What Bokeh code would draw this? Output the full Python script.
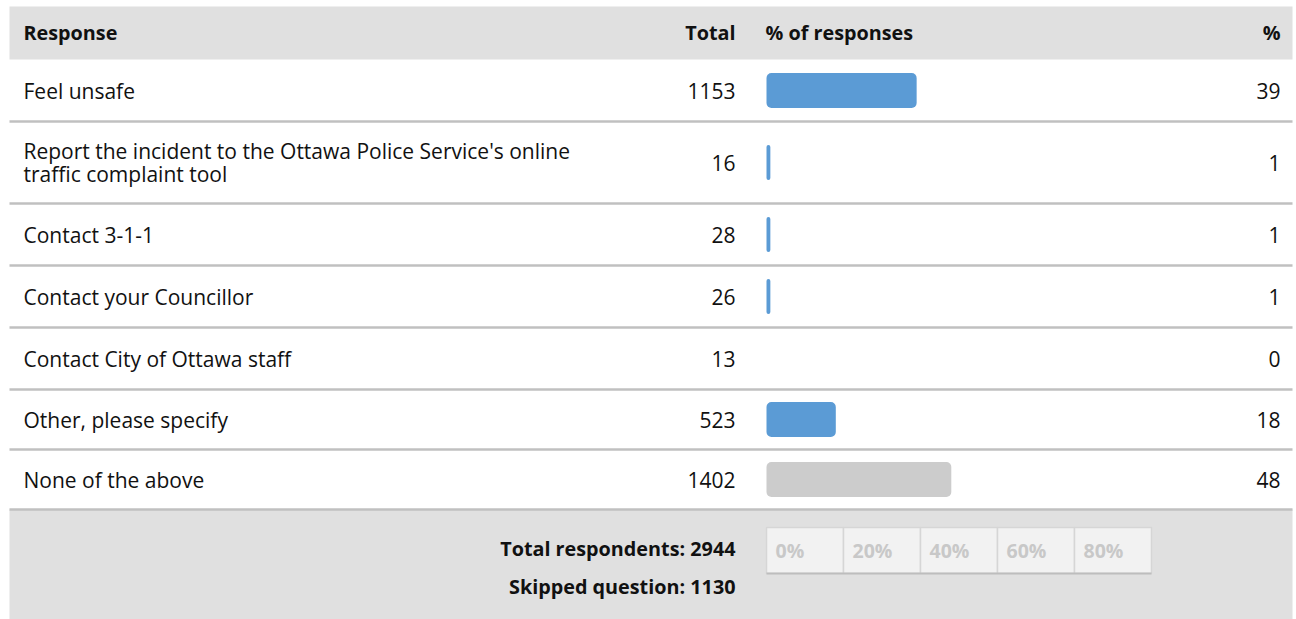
from bokeh.plotting import figure
from bokeh.models import Range1d, ColumnDataSource
from bokeh.core.properties import value
from bokeh.embed import file_html
from bokeh.resources import INLINE

# ---- data ----
responses = [
    "Feel unsafe",
    "Report the incident to the Ottawa Police Service's online\ntraffic complaint tool",
    "Contact 3-1-1",
    "Contact your Councillor",
    "Contact City of Ottawa staff",
    "Other, please specify",
    "None of the above",
]
totals = [1153, 16, 28, 26, 13, 523, 1402]
percents = [39, 1, 1, 1, 0, 18, 48]
headers = ["Response", "Total", "% of responses", "%"]
scale_ticks = [0, 20, 40, 60, 80]
total_respondents = 2944
skipped_question = 1130

# ---- layout (pixels) ----
W, H = 1296, 619
FONT = value("Open Sans")
FS = "21px"
FSB = "19.8px"
TXT = "#111111"
row_heights = [62, 82, 62, 62, 62, 60, 60]
header_top, header_bottom = 6, 59
left_edge, right_edge = 9, 1292
x_label = 23
x_total = 735
x_pct_right = 1280
bar_start_px = 766
px_per_pct = 3.85

row_tops = []
y = header_bottom
for h in row_heights:
    row_tops.append(y)
    y += h
footer_top = y
row_centers = [t + h / 2 for t, h in zip(row_tops, row_heights)]
separators = [t + h for t, h in zip(row_tops, row_heights)]

p = figure(width=W, height=H, x_range=Range1d(0, W), y_range=Range1d(H, 0),
           output_backend="svg", toolbar_location=None, min_border=0,
           x_axis_type=None, y_axis_type=None)
p.grid.visible = False
p.outline_line_color = None
p.background_fill_color = "white"
p.border_fill_color = "white"
p.extra_x_ranges = {"pct": Range1d(-bar_start_px / px_per_pct, (W - bar_start_px) / px_per_pct)}

# header & footer bands
p.quad(left=[left_edge, left_edge], right=[right_edge, right_edge], top=[header_top, footer_top],
       bottom=[header_bottom, H], fill_color="#e0e0e0", line_color=None)

# separators
p.segment(x0=[left_edge] * len(separators), x1=[right_edge] * len(separators), y0=separators,
          y1=separators, line_color="#c0c0c0", line_width=2.5)

# header texts
hc = (header_top + header_bottom) / 2 - 1
bold = dict(text_font=FONT, text_font_size=FSB, text_baseline="middle", text_color=TXT,
            text_font_style="bold")
p.text(x=[x_label], y=[hc], text=[headers[0]], text_align="left", **bold)
p.text(x=[x_total], y=[hc], text=[headers[1]], text_align="right", **bold)
p.text(x=[bar_start_px - 1], y=[hc], text=[headers[2]], text_align="left", **bold)
p.text(x=[x_pct_right], y=[hc], text=[headers[3]], text_align="right", **bold)

# rows
common = dict(text_font=FONT, text_font_size=FS, text_baseline="middle", text_color=TXT)
colors = ["#5b9bd5"] * (len(responses) - 1) + ["#cccccc"]
src = ColumnDataSource(dict(
    y=row_centers, label=responses, total=[str(t) for t in totals],
    pct=percents, pct_txt=[str(v) for v in percents], color=colors,
    xl=[x_label] * len(responses), xt=[x_total] * len(responses),
    xp=[x_pct_right] * len(responses), zero=[0] * len(responses),
))
p.text(x="xl", y="y", text="label", source=src, text_align="left", text_line_height=0.82, **common)
p.text(x="xt", y="y", text="total", source=src, text_align="right", **common)
p.text(x="xp", y="y", text="pct_txt", source=src, text_align="right", **common)
p.hbar(y="y", left="zero", right="pct", height=35, source=src, x_range_name="pct",
       fill_color="color", line_color=None, border_radius=5)

# footer texts
p.text(x=[x_total, x_total], y=[footer_top + 39, footer_top + 77],
       text=[f"Total respondents: {total_respondents}", f"Skipped question: {skipped_question}"],
       text_align="right", **bold)

# footer scale
sb_top, sb_bottom = footer_top + 18, footer_top + 64
p.quad(left=scale_ticks, right=[t + 20 for t in scale_ticks], top=[sb_top] * 5, bottom=[sb_bottom] * 5,
       x_range_name="pct", fill_color="#f2f2f2", line_color="#d6d6d6", line_width=1.5)
p.segment(x0=[0], x1=[100], y0=[sb_bottom], y1=[sb_bottom], x_range_name="pct",
          line_color="#bdbdbd", line_width=2)
p.text(x=scale_ticks, y=[(sb_top + sb_bottom) / 2] * 5, text=[f"{t}%" for t in scale_ticks],
       x_range_name="pct", x_offset=9, text_font=FONT, text_font_size="19.5px", text_font_style="bold",
       text_baseline="middle", text_align="left", text_color="#c8c8c8")

open("out.html", "w").write(file_html(p, INLINE))
